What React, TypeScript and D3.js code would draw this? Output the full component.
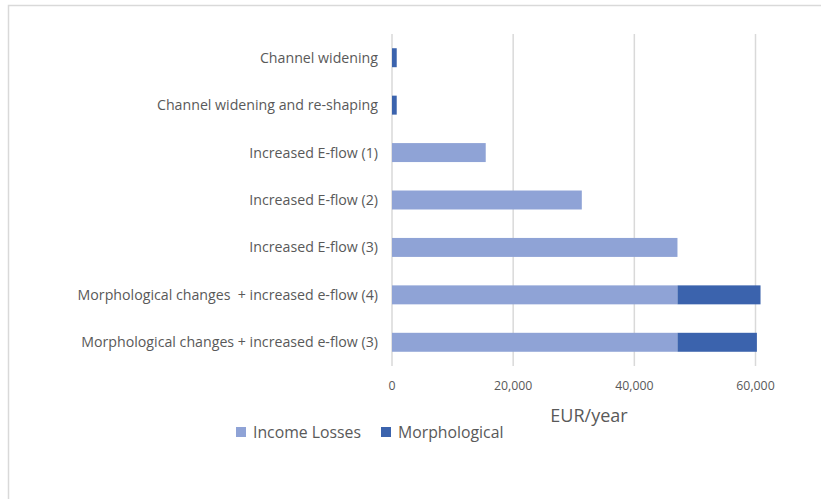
import React from "react";
import * as d3 from "d3";

const categories = [
  "Channel widening",
  "Channel widening and re-shaping",
  "Increased E-flow (1)",
  "Increased E-flow (2)",
  "Increased E-flow (3)",
  "Morphological changes  + increased e-flow (4)",
  "Morphological changes + increased e-flow (3)",
];
const incomeLosses = [0, 0, 15470, 31330, 47120, 47120, 47120];
const morphological = [780, 780, 0, 0, 0, 13710, 13110];
const xTicks = [0, 20000, 40000, 60000];
const seriesNames = ["Income Losses", "Morphological"];
const colors = ["#8FA3D6", "#3B63AD"];

export default function App() {
  const W = 821, H = 499;
  const x = d3.scaleLinear().domain([0, 60000]).range([392, 755.5]);
  const y = d3.scaleBand().domain(categories).range([34, 366]).paddingInner(0.6).paddingOuter(0.3);
  const fmt = d3.format(",");
  const font = "'Open Sans', sans-serif";
  const text = "#595959";
  return (
    <svg width={W} height={H} style={{ position: "absolute", left: 0, top: 0, background: "#fff" }}>
      <rect x={8.5} y={5.5} width={W + 20} height={H + 20} fill="#fff" stroke="#d9d9d9" strokeWidth={1.5} />
      {xTicks.map((t) => (
        <line key={t} x1={x(t)} x2={x(t)} y1={34} y2={366} stroke="#d9d9d9" strokeWidth={1.5} />
      ))}
      {categories.map((c, i) => {
        const y0 = y(c)!;
        const bh = y.bandwidth();
        return (
          <g key={c}>
            {incomeLosses[i] > 0 && (
              <rect x={x(0)} y={y0} width={x(incomeLosses[i]) - x(0)} height={bh} fill={colors[0]} />
            )}
            {morphological[i] > 0 && (
              <rect x={x(incomeLosses[i])} y={y0} width={x(incomeLosses[i] + morphological[i]) - x(incomeLosses[i])} height={bh} fill={colors[1]} />
            )}
            <text x={378} y={y0 + bh / 2} dy="0.35em" textAnchor="end" fontFamily={font} fontSize={14.2} fill={text} style={{ whiteSpace: "pre" }}>
              {c}
            </text>
          </g>
        );
      })}
      {xTicks.map((t) => (
        <text key={t} x={x(t)} y={390} textAnchor="middle" fontFamily={font} fontSize={12.3} fill={text}>
          {fmt(t)}
        </text>
      ))}
      <text x={589} y={422} textAnchor="middle" fontFamily={font} fontSize={18} fill={text}>EUR/year</text>
      {seriesNames.map((s, i) => {
        const lx = i === 0 ? 236 : 381;
        return (
          <g key={s}>
            <rect x={lx} y={427} width={10} height={10} fill={colors[i]} />
            <text x={lx + 17} y={438} fontFamily={font} fontSize={15.8} fill={text}>{s}</text>
          </g>
        );
      })}
    </svg>
  );
}
